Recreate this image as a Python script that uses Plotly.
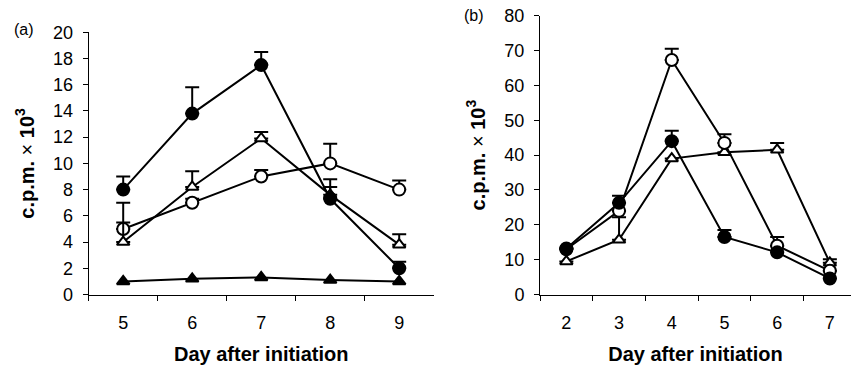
import plotly.graph_objects as go

W, H = 851, 371

# ---- data: panel (a) ----
days_a = ["5", "6", "7", "8", "9"]
a_filled_circle = [8.0, 13.8, 17.5, 7.3, 2.0]
a_filled_circle_err = [1.0, 2.0, 1.0, 0.9, 0.5]
a_open_circle = [5.0, 7.0, 9.0, 10.0, 8.0]
a_open_circle_err = [2.0, 0.3, 0.5, 1.5, 0.7]
a_open_tri = [4.0, 8.2, 11.9, 7.6, 3.8]
a_open_tri_err = [1.5, 1.2, 0.5, 1.2, 0.8]
a_filled_tri = [1.0, 1.2, 1.3, 1.1, 1.0]

# ---- data: panel (b) ----
days_b = ["2", "3", "4", "5", "6", "7"]
b_filled_circle = [13.2, 26.3, 44.0, 16.5, 12.1, 4.6]
b_filled_circle_err = [0.0, 2.0, 3.0, 2.0, 0.0, 0.0]
b_open_circle = [13.0, 24.0, 67.3, 43.5, 14.0, 6.8]
b_open_circle_err = [0.0, 0.0, 3.2, 2.5, 2.5, 0.0]
b_open_tri = [9.5, 15.7, 39.0, 40.8, 41.5, 9.1]
b_open_tri_err = [0.0, 6.5, 0.0, 0.0, 2.0, 1.0]

FONT = "Liberation Sans, Arial, sans-serif"

def trace(x, y, err, symbol, filled, xa, ya):
    size = 11 if symbol.startswith("triangle") else 12
    kw = dict(
        x=x, y=y, mode="lines+markers", xaxis=xa, yaxis=ya, showlegend=False,
        line=dict(color="black", width=2),
        marker=dict(symbol=symbol, size=size,
                    color="black" if filled else "white",
                    line=dict(color="black", width=2)),
        cliponaxis=False,
    )
    if err is not None:
        kw["error_y"] = dict(type="data", array=err, arrayminus=[0] * len(err),
                             symmetric=False, color="black", thickness=2, width=7)
    return go.Scatter(**kw)

fig = go.Figure()
fig.add_trace(trace(days_a, a_filled_tri, None, "triangle-up", True, "x", "y"))
fig.add_trace(trace(days_a, a_open_circle, a_open_circle_err, "circle", False, "x", "y"))
fig.add_trace(trace(days_a, a_open_tri, a_open_tri_err, "triangle-up", False, "x", "y"))
fig.add_trace(trace(days_a, a_filled_circle, a_filled_circle_err, "circle", True, "x", "y"))

fig.add_trace(trace(days_b, b_open_tri, b_open_tri_err, "triangle-up", False, "x2", "y2"))
fig.add_trace(trace(days_b, b_open_circle, b_open_circle_err, "circle", False, "x2", "y2"))
fig.add_trace(trace(days_b, b_filled_circle, b_filled_circle_err, "circle", True, "x2", "y2"))

y0 = (H - 294.5) / H
ax_common = dict(showgrid=False, zeroline=False, showline=True, linecolor="black",
                 linewidth=1, ticks="outside", ticklen=5, tickcolor="black",
                 automargin=False,
                 tickfont=dict(family=FONT, size=18, color="black"))

title_font = dict(family=FONT, size=20, color="black")
ytitle = "<b>c.p.m.</b> × <b>10<sup>3</sup></b>"
xtitle = "<b>Day after initiation</b>"

# category boundaries: right panel extends past the page edge
right_px0, cat_w_b = 540.0, 52.7
right_end = -0.5 + (W - right_px0) / cat_w_b

xcommon = dict(type="category", tickson="boundaries", ticklabelstandoff=12,
               title=dict(text=xtitle, font=title_font, standoff=14), **ax_common)
ycommon = dict(ticklabelstandoff=6,
               title=dict(text=ytitle, font=title_font, standoff=13), **ax_common)

fig.update_layout(
    template="none",
    width=W, height=H, margin=dict(l=0, r=0, t=0, b=0, autoexpand=False),
    paper_bgcolor="white", plot_bgcolor="white",
    xaxis=dict(domain=[88.7 / W, 433.7 / W], range=[-0.5, 4.5], anchor="y", **xcommon),
    yaxis=dict(domain=[y0, (H - 32.3) / H], range=[0, 20], dtick=2, anchor="x", **ycommon),
    xaxis2=dict(domain=[right_px0 / W, 1.0], range=[-0.5, right_end], anchor="y2", **xcommon),
    yaxis2=dict(domain=[y0, (H - 15.7) / H], range=[0, 80], dtick=10, anchor="x2", **ycommon),
    annotations=[
        dict(text="(a)", x=12 / W, y=(H - 30) / H, xref="paper", yref="paper",
             xanchor="left", yanchor="middle", showarrow=False,
             font=dict(family=FONT, size=16, color="black")),
        dict(text="(b)", x=462 / W, y=(H - 15) / H, xref="paper", yref="paper",
             xanchor="left", yanchor="middle", showarrow=False,
             font=dict(family=FONT, size=16, color="black")),
    ],
)

fig.write_html("out.html")
